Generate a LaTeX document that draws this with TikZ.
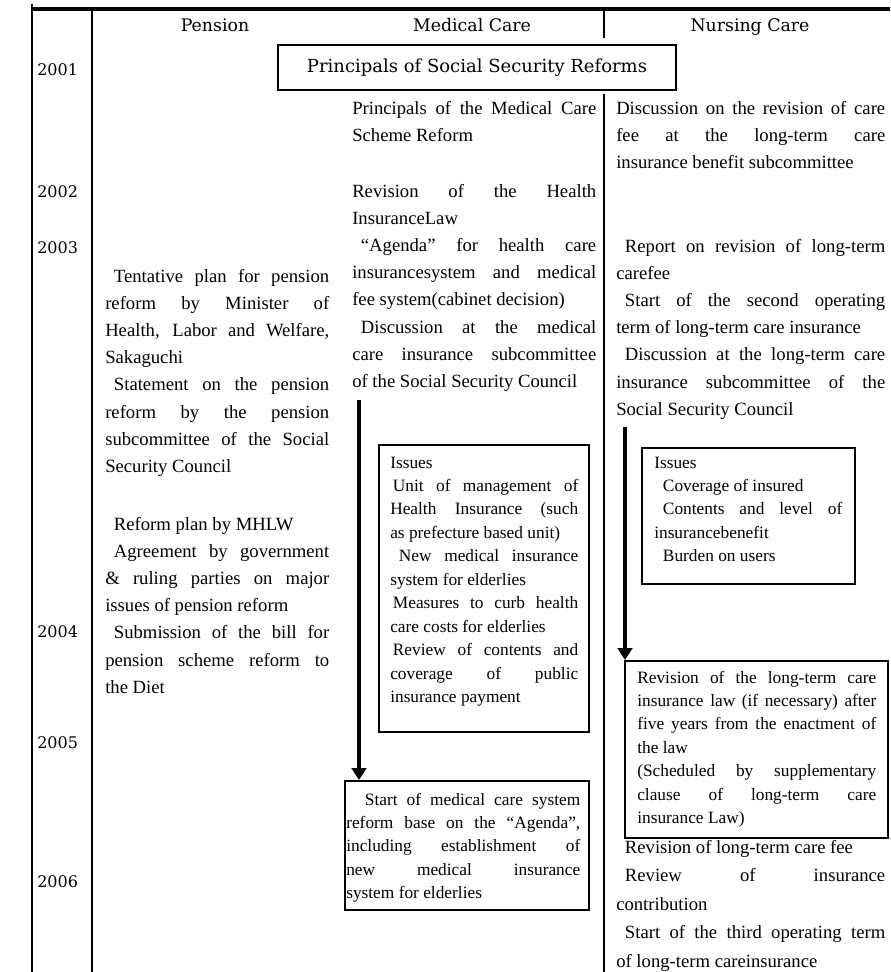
\documentclass[tikz,border=0pt]{standalone}
\usepackage{fontspec}
\setmainfont{Liberation Serif}
\newfontfamily\headserif{DejaVu Serif}
\usetikzlibrary{arrows.meta}
\setlength{\parindent}{0pt}
\hbadness=10000 \hfuzz=3pt \tolerance=10000
\newcommand{\ind}{\hspace*{6.5pt}}
\newcommand{\tinyind}{\hspace*{2pt}}

\begin{document}
\begin{tikzpicture}[x=0.75pt,y=-0.75pt,
    rule/.style={line width=1.5pt},
    frame/.style={draw,line width=1.3pt,inner sep=0pt,anchor=north west},
    body/.style={anchor=base west,inner sep=0pt,align=justify,
      font=\fontsize{14}{20.4}\selectfont},
    boxbody/.style={body,font=\fontsize{13}{17.6}\selectfont},
    head/.style={anchor=base,inner sep=0pt,font=\headserif\fontsize{13}{15}\selectfont},
    year/.style={anchor=base west,inner sep=0pt,font=\headserif\fontsize{12}{14}\selectfont},
    flow/.style={line width=3pt,-{Triangle[length=9pt,width=11pt]}}]
    \useasboundingbox (0,0) rectangle (890,972);
    %table rules
    \draw[line width=2.6pt] (31,9) -- (890,9);
    \draw[rule] (32,4) -- (32,972);
    \draw[rule] (92,9) -- (92,972);
    \draw[rule] (604,9) -- (604,38);
    \draw[rule] (604,94) -- (604,972);
    %column heads
    \node[head] (hpension) at (215,31) {Pension};
    \node[head] (hmedical) at (472,31) {Medical Care};
    \node[head] (hnursing) at (750,31) {Nursing Care};
    %years
    \node[year] (y2001) at (37,75) {2001};
    \node[year] (y2002) at (37,197) {2002};
    \node[year] (y2003) at (37,253) {2003};
    \node[year] (y2004) at (37,637) {2004};
    \node[year] (y2005) at (37,748) {2005};
    \node[year] (y2006) at (37,887) {2006};
    \node[draw,line width=1.3pt,minimum width=298.5pt,minimum height=33.75pt,inner sep=0pt,
      font=\headserif\fontsize{13.5}{16}\selectfont] (principles) at (477,67.5)
      {Principals of Social Security Reforms};
    %pension
    \node[body,text width=168pt] (penfirst) at (105,282) {\ind Tentative plan for pension\linebreak
      reform by Minister of\linebreak
      Health, Labor and Welfare,\linebreak
      Sakaguchi\par
      \ind Statement on the pension\linebreak
      reform by the pension\linebreak
      subcommittee of the Social\linebreak
      Security Council};
    \node[body,text width=168pt] (pensecond) at (105,530) {\ind Reform plan by MHLW\par
      \ind Agreement by government\linebreak
      \& ruling parties on major\linebreak
      issues of pension reform\par
      \ind Submission of the bill for\linebreak
      pension scheme reform to\linebreak
      the Diet};
    %medical care
    \node[body,text width=183pt] (medfirst) at (352,114) {Principals of the Medical Care\linebreak
      Scheme Reform};
    \node[body,text width=183pt] (medsecond) at (352,197) {Revision of the Health\linebreak
      InsuranceLaw\par
      \ind “Agenda” for health care\linebreak
      insurancesystem and medical\linebreak
      fee system(cabinet decision)\par
      \ind Discussion at the medical\linebreak
      care insurance subcommittee\linebreak
      of the Social Security Council};
    \node[frame,minimum width=157.5pt,minimum height=215.25pt] (medissues) at (378,444) {};
    \node[boxbody,text width=141pt] (medissuestext) at (390,468) {Issues\par
      \tinyind Unit of management of\linebreak
      Health Insurance (such\linebreak
      as prefecture based unit)\par
      \ind New medical insurance\linebreak
      system for elderlies\par
      \tinyind Measures to curb health\linebreak
      care costs for elderlies\par
      \tinyind Review of contents and\linebreak
      coverage of public\linebreak
      insurance payment};
    \node[frame,minimum width=183pt,minimum height=96.75pt] (medstart) at (344,780) {};
    \node[boxbody,text width=175.5pt] (medstarttext) at (346,805) {\hspace*{14pt}Start of medical care system\linebreak
      reform base on the “Agenda”,\linebreak
      including establishment of\linebreak
      new medical insurance\linebreak
      system for elderlies};
    \coordinate (medstem) at (359,400);
    \draw[flow] (medstem) -- (medstem |- medstart.north);
    %nursing care
    \node[body,text width=201.75pt] (nurfirst) at (616,114) {Discussion on the revision of care\linebreak
      fee at the long-term care\linebreak
      insurance benefit subcommittee};
    \node[body,text width=201.75pt] (nursecond) at (616,252) {\ind Report on revision of long-term\linebreak
      carefee\par
      \ind Start of the second operating\linebreak
      term of long-term care insurance\par
      \ind Discussion at the long-term care\linebreak
      insurance subcommittee of the\linebreak
      Social Security Council};
    \node[frame,minimum width=159.75pt,minimum height=102pt] (nurissues) at (641,447) {};
    \node[boxbody,text width=141pt] (nurissuestext) at (654,468) {Issues\par
      \ind Coverage of insured\par
      \ind Contents and level of\linebreak
      insurancebenefit\par
      \ind Burden on users};
    \node[frame,minimum width=197.25pt,minimum height=132.75pt] (nurlaw) at (624,660) {};
    \node[boxbody,text width=179.25pt] (nurlawtext) at (637,683) {Revision of the long-term care\linebreak
      insurance law (if necessary) after\linebreak
      five years from the enactment of\linebreak
      the law\par
      (Scheduled by supplementary\linebreak
      clause of long-term care\linebreak
      insurance Law)};
    \node[body,text width=201.75pt,font=\fontsize{14}{21.4}\selectfont] (nurthird) at (616,853) {\ind Revision of long-term care fee\par
      \ind Review of insurance\linebreak
      contribution\par
      \ind Start of the third operating term\linebreak
      of long-term careinsurance};
    \coordinate (nurstem) at (625,427);
    \draw[flow] (nurstem) -- (nurstem |- nurlaw.north);
\end{tikzpicture}
\end{document}
